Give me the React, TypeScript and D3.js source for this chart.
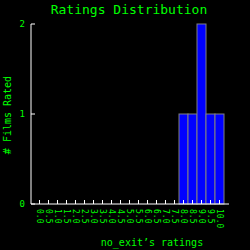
import React from "react";
import * as d3 from "d3";

const categories = ["0.0","0.5","1.0","1.5","2.0","2.5","3.0","3.5","4.0","4.5","5.0","5.5","6.0","6.5","7.0","7.5","8.0","8.5","9.0","9.5","10.0"];
const counts = [0,0,0,0,0,0,0,0,0,0,0,0,0,0,0,0,1,1,2,1,1];
const yTicks = [0, 1, 2];
const title = "Ratings Distribution";
const xLabel = "no_exit\u2019s ratings";
const yLabel = "# Films Rated";

export default function App() {
  const W = 250, H = 250;
  const x = d3.scaleBand<string>().domain(categories).range([35, 224]).padding(0);
  const y = d3.scaleLinear().domain([0, 2]).range([204, 24]);
  const axisL = 31, axisR = 229;
  const green = "#00ff00";
  const font = "'DejaVu Sans Mono', monospace";
  return (
    <svg width={W} height={H} style={{ position: "fixed", left: 0, top: 0, background: "#000" }}>
      <rect x={0} y={0} width={W} height={H} fill="#000" />
      <text x={129} y={14} fill={green} fontFamily={font} fontSize={13} textAnchor="middle">{title}</text>
      {categories.map((c, i) => (
        counts[i] > 0 ? (
          <rect key={c} x={x(c)!} y={y(counts[i])} width={x.bandwidth()} height={y(0) - y(counts[i])}
            fill="#0000ff" stroke="#808080" strokeWidth={1} />
        ) : null
      ))}
      <line x1={axisL} x2={axisL} y1={y(2)} y2={y(0)} stroke="#fff" strokeWidth={1} />
      <line x1={axisL} x2={axisR} y1={y(0)} y2={y(0)} stroke="#fff" strokeWidth={1} />
      {yTicks.map(t => (
        <g key={t}>
          <line x1={axisL} x2={axisL + 4} y1={y(t)} y2={y(t)} stroke="#fff" strokeWidth={1} />
          <text x={25} y={y(t) + 3} fill={green} fontFamily={font} fontSize={9} textAnchor="end">{t}</text>
        </g>
      ))}
      {categories.map(c => {
        const cx = x(c)! + x.bandwidth() / 2;
        return (
          <g key={"t" + c}>
            <line x1={cx} x2={cx} y1={y(0)} y2={y(0) - 4} stroke="#fff" strokeWidth={1} />
            <text transform={`translate(${cx - 3},209) rotate(90)`} fill={green} fontFamily={font} fontSize={8} textAnchor="start">{c}</text>
          </g>
        );
      })}
      <text transform={`translate(11,115) rotate(-90)`} fill={green} fontFamily={font} fontSize={10} textAnchor="middle">{yLabel}</text>
      <text x={152} y={246} fill={green} fontFamily={font} fontSize={10} textAnchor="middle">{xLabel}</text>
    </svg>
  );
}
